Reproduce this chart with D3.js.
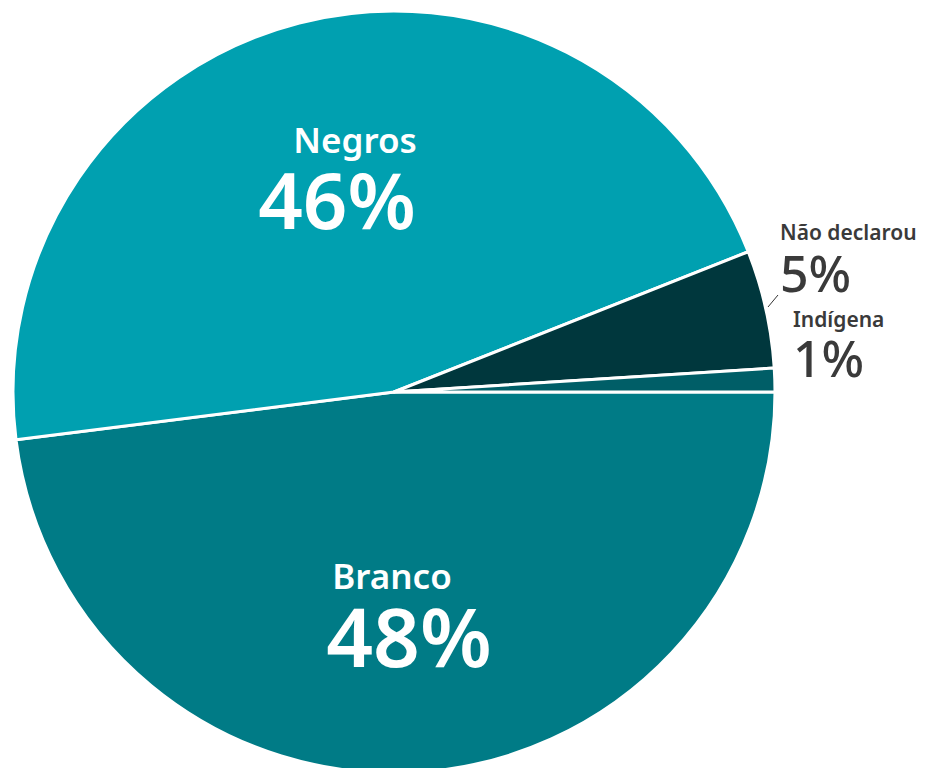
<!DOCTYPE html>
<html>
<head>
<meta charset="utf-8">
<script src="https://cdn.jsdelivr.net/npm/d3@7"></script>
<style>
  html, body { margin: 0; padding: 0; background: #fff; }
  svg { display: block; }
  text { font-family: "Source Sans Pro", "Noto Sans", "Open Sans", sans-serif; }
</style>
</head>
<body>
<svg id="chart" width="926" height="768"></svg>
<script>
// Composição por cor/raça
const categories = ["Branco", "Negros", "Não declarou", "Indígena"];
const values = [48, 46, 5, 1];
const colors = ["#007b86", "#00a0b0", "#00373d", "#005e67"];

const width = 926, height = 768;
const cx = 394, cy = 392, radius = 381;

const svg = d3.select("#chart");
const g = svg.append("g").attr("transform", `translate(${cx},${cy})`);

const data = categories.map((c, i) => ({ name: c, value: values[i], color: colors[i] }));

// Slices run clockwise from 3 o'clock
const pie = d3.pie()
  .value(d => d.value)
  .sort(null)
  .startAngle(Math.PI / 2)
  .endAngle(Math.PI / 2 + 2 * Math.PI);

const arc = d3.arc().innerRadius(0).outerRadius(radius);
const arcs = pie(data);

g.selectAll("path.slice")
  .data(arcs)
  .join("path")
  .attr("class", "slice")
  .attr("d", arc)
  .attr("fill", d => d.data.color)
  .attr("stroke", "#fff")
  .attr("stroke-width", 3)
  .attr("stroke-linejoin", "round");

// Big labels inside the two large slices
const inside = [
  { name: "Negros", nx: 355, ny: 153, px: 337, py: 229, nameSize: 35, pctSize: 78 },
  { name: "Branco", nx: 392, ny: 589, px: 409, py: 667, nameSize: 35, pctSize: 82 }
];
inside.forEach(l => {
  const d = data.find(x => x.name === l.name);
  svg.append("text")
    .attr("x", l.nx).attr("y", l.ny)
    .attr("text-anchor", "middle")
    .attr("fill", "#fff")
    .attr("font-weight", 600)
    .attr("font-size", l.nameSize)
    .text(d.name);
  svg.append("text")
    .attr("x", l.px).attr("y", l.py)
    .attr("text-anchor", "middle")
    .attr("fill", "#fff")
    .attr("font-weight", 600)
    .attr("font-size", l.pctSize)
    .text(d.value + "%");
});

// Outside labels for the small slices
const outside = [
  { name: "Não declarou", x: 780, ny: 240, py: 292 },
  { name: "Indígena", x: 793, ny: 327, py: 377 }
];
outside.forEach(l => {
  const d = data.find(x => x.name === l.name);
  svg.append("text")
    .attr("x", l.x).attr("y", l.ny)
    .attr("fill", "#3a3a3a")
    .attr("font-weight", 600)
    .attr("font-size", 21)
    .text(d.name);
  svg.append("text")
    .attr("x", l.x).attr("y", l.py)
    .attr("fill", "#3a3a3a")
    .attr("font-weight", 500)
    .attr("font-size", 50)
    .text(d.value + "%");
});

// Leader line from the "Não declarou" slice to its value
svg.append("line")
  .attr("x1", 768).attr("y1", 307)
  .attr("x2", 778).attr("y2", 295)
  .attr("stroke", "#333")
  .attr("stroke-width", 1);
</script>
</body>
</html>
